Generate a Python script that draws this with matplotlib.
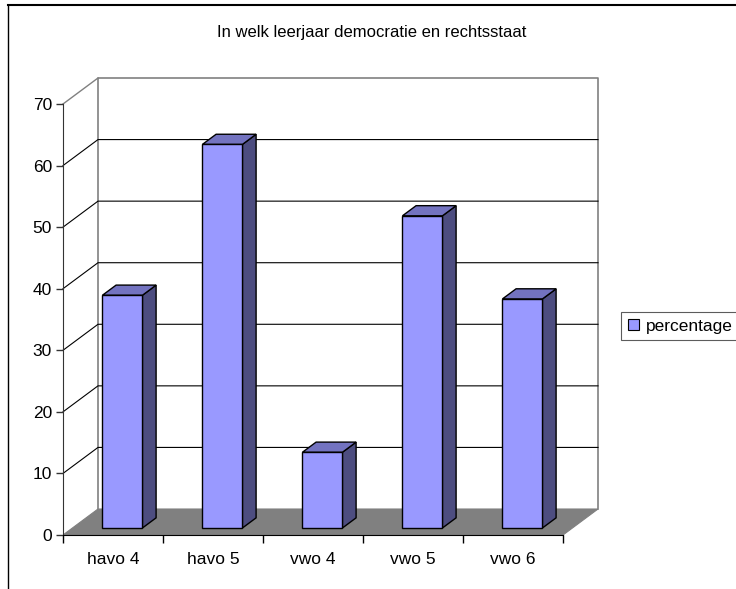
import matplotlib.pyplot as plt
from matplotlib.patches import Polygon, Patch
from matplotlib.lines import Line2D

plt.rcParams['font.family'] = ['Liberation Sans', 'DejaVu Sans']

categories = ['havo 4', 'havo 5', 'vwo 4', 'vwo 5', 'vwo 6']
percentage = [37.8, 62.3, 12.3, 50.7, 37.2]
yticks = [0, 10, 20, 30, 40, 50, 60, 70]
title = 'In welk leerjaar democratie en rechtsstaat'

W, H = 736, 589
fig = plt.figure(figsize=(W / 100, H / 100), dpi=100)

# axes placed so that 1 category = 100 px and 10 units = 61.6 px
px_cat = 100.0
px_unit = 431.0 / 70
x0, y0 = 63, 535
xmax, ymax = 5.4, 75
ax = fig.add_axes([x0 / W, (H - y0) / H, xmax * px_cat / W, ymax * px_unit / H])
ax.set_xlim(0, xmax)
ax.set_ylim(0, ymax)
ax.patch.set_alpha(0)

# depth of the 3d box in data units
DX = 35 / px_cat
DY = 26 / px_unit
n = len(categories)

def depth(x, y, d):
    return (x + DX * d, y + DY * d)

# floor
floor = Polygon([(0, 0), (n, 0), depth(n, 0, 1), depth(0, 0, 1)],
                closed=True, facecolor='#808080', edgecolor='#808080', lw=0.8, zorder=1)
ax.add_patch(floor)

# back wall
bx, by = depth(0, 0, 1)
ax.plot([bx, bx, bx + n, bx + n], [by, by + 70, by + 70, by], color='#808080', lw=1.2,
        zorder=1, clip_on=False)
ax.plot([0, bx], [70, by + 70], color='#808080', lw=1.0, zorder=1, clip_on=False)

# gridlines on back wall + side wall
for v in yticks[1:-1]:
    ax.plot([0, bx, bx + n], [v, v + by, v + by], color='black', lw=0.8, zorder=1,
            clip_on=False)

# bars
d0, d1 = 0.27, 0.66
bw = 0.4
for i, v in enumerate(percentage):
    xl = i + 0.5 - bw / 2
    xr = i + 0.5 + bw / 2
    fl = depth(xl, 0, d0)
    fr = depth(xr, 0, d0)
    front = [fl, fr, (fr[0], fr[1] + v), (fl[0], fl[1] + v)]
    top = [(fl[0], fl[1] + v), (fr[0], fr[1] + v),
           depth(xr, v, d1), depth(xl, v, d1)]
    side = [fr, depth(xr, 0, d1), depth(xr, v, d1), (fr[0], fr[1] + v)]
    ax.add_patch(Polygon(side, closed=True, facecolor='#4D4D80', edgecolor='black',
                         lw=1.0, zorder=3, clip_on=False))
    ax.add_patch(Polygon(top, closed=True, facecolor='#7373C0', edgecolor='black',
                         lw=1.0, zorder=3, clip_on=False))
    ax.add_patch(Polygon(front, closed=True, facecolor='#9999FF', edgecolor='black',
                         lw=1.0, zorder=4, clip_on=False))

# axes look
for s in ['top', 'right']:
    ax.spines[s].set_visible(False)
ax.spines['left'].set_bounds(0, 70)
ax.spines['bottom'].set_bounds(0, n)
ax.spines['left'].set_color('#333333')
ax.spines['bottom'].set_color('black')
ax.spines['left'].set_zorder(5)
ax.spines['bottom'].set_zorder(5)
ax.set_yticks(yticks)
ax.set_yticklabels([str(t) for t in yticks])
ax.set_xticks(range(n + 1))
ax.set_xticklabels([])
ax.set_xticks([i + 0.5 for i in range(n)], minor=True)
ax.set_xticklabels(categories, minor=True)
ax.tick_params(axis='y', direction='out', length=5, width=1, pad=3, labelsize=12.5,
               color='#333333')
ax.tick_params(axis='x', which='major', direction='out', length=6, width=1)
ax.tick_params(axis='x', which='minor', length=0, pad=12, labelsize=12.5)

fig.text(372 / W, 1 - 33 / H, title, ha='center', va='center', fontsize=12)

# legend (partly cut at the right edge like the original)
handle = Patch(facecolor='#9999FF', edgecolor='black', lw=0.8)
leg = fig.legend([handle], ['percentage'], loc='center left',
                 bbox_to_anchor=(621 / W, 1 - 326 / H), frameon=True, fancybox=False,
                 edgecolor='#333333', fontsize=12.5, handlelength=0.65, handleheight=0.65,
                 handletextpad=0.4, borderpad=0.4, borderaxespad=0)
leg.get_frame().set_linewidth(0.8)

# outer chart border (top and left visible)
fig.add_artist(Line2D([8 / W, 1.0], [1 - 4.5 / H, 1 - 4.5 / H], color='black', lw=1.5))
fig.add_artist(Line2D([8 / W, 8 / W], [0, 1 - 4.5 / H], color='black', lw=1.0))

fig.savefig('out.png', dpi=100)
